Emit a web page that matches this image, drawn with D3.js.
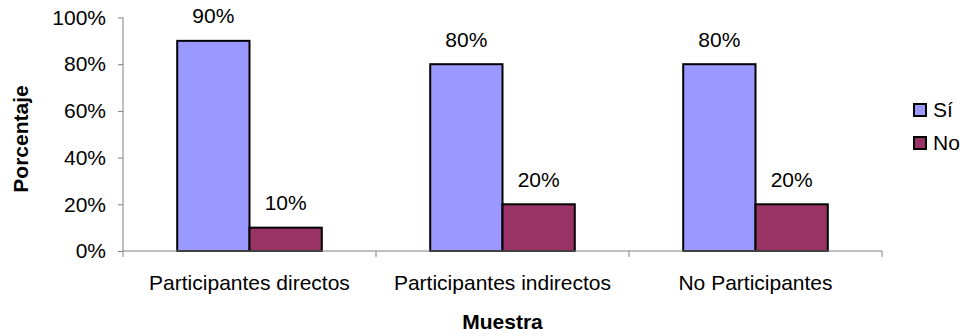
<!DOCTYPE html>
<html>
<head>
<meta charset="utf-8">
<script src="https://cdn.jsdelivr.net/npm/d3@7"></script>
<style>
  html, body { margin: 0; padding: 0; background: #fff; }
  svg { display: block; font-family: "Liberation Sans", Arial, sans-serif; }
</style>
</head>
<body>
<svg id="chart" width="963" height="336"></svg>
<script>
// Survey answers by sample group
const categories = ["Participantes directos", "Participantes indirectos", "No Participantes"];
const seriesNames = ["Sí", "No"];
const siValues = [0.9, 0.8, 0.8];
const noValues = [0.1, 0.2, 0.2];
const yTicks = [0, 0.2, 0.4, 0.6, 0.8, 1.0];
const colors = ["#9999FF", "#993366"];

const svg = d3.select("#chart");
const plot = { left: 123, right: 882, top: 17.5, bottom: 251 };

const x = d3.scaleBand().domain(categories).range([plot.left, plot.right]).paddingInner(0).paddingOuter(0);
const xSub = d3.scaleBand().domain(seriesNames).range([0, x.bandwidth()]).paddingInner(0).paddingOuter(0.75);
const y = d3.scaleLinear().domain([0, 1]).range([plot.bottom, plot.top]);
const fmt = d3.format(".0%");

const rows = categories.map((c, i) => ({
  category: c,
  values: [ { key: "Sí", v: siValues[i] }, { key: "No", v: noValues[i] } ]
}));

// Y axis
const yAxis = d3.axisLeft(y).tickValues(yTicks).tickFormat(fmt).tickSize(5).tickPadding(12);
const gy = svg.append("g").attr("transform", `translate(${plot.left},0)`).call(yAxis);
gy.select(".domain").attr("stroke", "#808080").attr("d", `M0,${plot.top}V${plot.bottom}`);
gy.selectAll(".tick line").attr("stroke", "#808080");
gy.selectAll(".tick text").attr("font-size", 21).attr("fill", "#000")
  .attr("font-family", "Liberation Sans, Arial, sans-serif");

// Bars
const groups = svg.append("g").selectAll("g").data(rows).join("g")
  .attr("transform", d => `translate(${x(d.category)},0)`);

groups.selectAll("rect").data(d => d.values).join("rect")
  .attr("x", d => xSub(d.key))
  .attr("y", d => y(d.v))
  .attr("width", xSub.bandwidth())
  .attr("height", d => y(0) - y(d.v))
  .attr("fill", (d, i) => colors[i])
  .attr("stroke", "#000")
  .attr("stroke-width", 2);

groups.selectAll("text.val").data(d => d.values).join("text")
  .attr("class", "val")
  .attr("x", d => xSub(d.key) + xSub.bandwidth() / 2)
  .attr("y", d => y(d.v) - 17.5)
  .attr("text-anchor", "middle")
  .attr("font-size", 21)
  .text(d => fmt(d.v));

// X axis with ticks at category boundaries
const gx = svg.append("g").attr("transform", `translate(0,${plot.bottom})`);
gx.append("path").attr("d", `M${plot.left},0H${plot.right}`).attr("stroke", "#808080").attr("fill", "none");
const bounds = categories.map(c => x(c)).concat([plot.right]);
gx.selectAll("line.b").data(bounds).join("line")
  .attr("class", "b")
  .attr("x1", d => d).attr("x2", d => d)
  .attr("y1", 0).attr("y2", 6)
  .attr("stroke", "#808080");
gx.selectAll("text").data(categories).join("text")
  .attr("x", d => x(d) + x.bandwidth() / 2)
  .attr("y", 39)
  .attr("text-anchor", "middle")
  .attr("font-size", 21)
  .text(d => d);

// Axis titles
svg.append("text")
  .attr("x", (plot.left + plot.right) / 2)
  .attr("y", 329)
  .attr("text-anchor", "middle")
  .attr("font-size", 21)
  .attr("font-weight", "bold")
  .text("Muestra");

svg.append("text")
  .attr("transform", `translate(28,139) rotate(-90)`)
  .attr("text-anchor", "middle")
  .attr("font-size", 21)
  .attr("font-weight", "bold")
  .text("Porcentaje");

// Legend
const legend = svg.append("g").attr("transform", "translate(914,104)");
const items = legend.selectAll("g").data(seriesNames).join("g")
  .attr("transform", (d, i) => `translate(0,${i * 33})`);
items.append("rect")
  .attr("width", 12).attr("height", 12)
  .attr("fill", (d, i) => colors[i])
  .attr("stroke", "#000").attr("stroke-width", 2);
items.append("text")
  .attr("x", 19).attr("y", 6).attr("dy", "0.35em")
  .attr("font-size", 21)
  .text(d => d);
</script>
</body>
</html>
